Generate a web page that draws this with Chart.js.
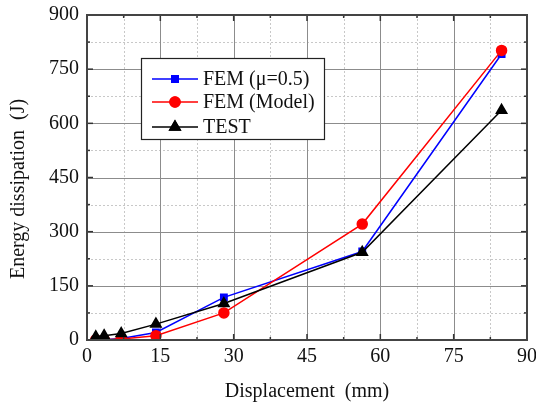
<!DOCTYPE html>
<html>
<head>
<meta charset="utf-8">
<script src="https://cdn.jsdelivr.net/npm/chart.js@4.4.0/dist/chart.umd.min.js"></script>
<style>
  html, body { margin: 0; padding: 0; background: #fff; }
  #wrap { width: 536px; height: 404px; }
</style>
</head>
<body>
<div id="wrap"><canvas id="chart" width="536" height="404"></canvas></div>
<script>
// displacement (mm)
var xValues = [1.8, 3.5, 7.0, 14.1, 28.0, 56.3, 84.8];
// energy dissipation (J)
var femMu = [1, 1, 4, 21, 118, 245, 792];
var femModel = [0.5, 1, 3, 12, 75, 321, 802];
var testValues = [9, 12, 18, 44, 101, 243, 636];

var xMajor = [0, 15, 30, 45, 60, 75, 90];
var xMinor = [7.5, 22.5, 37.5, 52.5, 67.5, 82.5];
var yMajor = [0, 150, 300, 450, 600, 750, 900];
var yMinor = [75, 225, 375, 525, 675, 825];

var yTitle = 'Energy dissipation  (J)';
var FONT = "'Liberation Serif', 'Times New Roman', serif";

function pts(ys){
  return xValues.map(function(x, i){ return {x: x, y: ys[i]}; });
}

/* grid, frame and inward ticks */
var frame = {
  id: 'frame',
  beforeDatasetsDraw: function(chart){
    var c = chart.ctx, a = chart.chartArea;
    var sx = chart.scales.x, sy = chart.scales.y;
    c.save();
    // minor grid (dashed)
    c.strokeStyle = '#c8c8c8';
    c.lineWidth = 1;
    c.setLineDash([2, 2]);
    xMinor.forEach(function(v){
      var p = Math.round(sx.getPixelForValue(v)) + 0.5;
      c.beginPath(); c.moveTo(p, a.top); c.lineTo(p, a.bottom); c.stroke();
    });
    yMinor.forEach(function(v){
      var p = Math.round(sy.getPixelForValue(v)) + 0.5;
      c.beginPath(); c.moveTo(a.left, p); c.lineTo(a.right, p); c.stroke();
    });
    // major grid (solid)
    c.setLineDash([]);
    c.strokeStyle = '#8c8c8c';
    xMajor.forEach(function(v){
      var p = Math.round(sx.getPixelForValue(v)) + 0.5;
      c.beginPath(); c.moveTo(p, a.top); c.lineTo(p, a.bottom); c.stroke();
    });
    yMajor.forEach(function(v){
      var p = Math.round(sy.getPixelForValue(v)) + 0.5;
      c.beginPath(); c.moveTo(a.left, p); c.lineTo(a.right, p); c.stroke();
    });
    c.restore();
  },
  afterDatasetsDraw: function(chart){
    var c = chart.ctx, a = chart.chartArea;
    var sx = chart.scales.x, sy = chart.scales.y;
    c.save();
    c.strokeStyle = '#333';
    c.lineWidth = 1.5;
    function tickX(v, len){
      var p = sx.getPixelForValue(v);
      c.beginPath(); c.moveTo(p, a.bottom); c.lineTo(p, a.bottom - len); c.stroke();
      c.beginPath(); c.moveTo(p, a.top); c.lineTo(p, a.top + len); c.stroke();
    }
    function tickY(v, len){
      var p = sy.getPixelForValue(v);
      c.beginPath(); c.moveTo(a.left, p); c.lineTo(a.left + len, p); c.stroke();
      c.beginPath(); c.moveTo(a.right, p); c.lineTo(a.right - len, p); c.stroke();
    }
    xMajor.forEach(function(v){ tickX(v, 6); });
    xMinor.forEach(function(v){ tickX(v, 3); });
    yMajor.forEach(function(v){ tickY(v, 6); });
    yMinor.forEach(function(v){ tickY(v, 3); });
    c.lineWidth = 2;
    c.strokeStyle = '#444';
    c.strokeRect(a.left, a.top, a.right - a.left, a.bottom - a.top);
    c.restore();
  }
};

/* boxed legend with line + marker samples, plus the y title */
var boxLegend = {
  id: 'boxLegend',
  afterDraw: function(chart){
    var c = chart.ctx;
    var bx = 141, by = 58, bw = 183, bh = 81;
    c.save();
    c.fillStyle = '#fff';
    c.fillRect(bx, by, bw, bh);
    c.strokeStyle = '#222';
    c.lineWidth = 1.2;
    c.strokeRect(bx + 0.5, by + 0.5, bw, bh);
    c.font = '20px ' + FONT;
    c.textBaseline = 'middle';
    var rows = [79, 102, 127];
    chart.data.datasets.forEach(function(ds, i){
      var y = rows[i];
      c.strokeStyle = ds.borderColor;
      c.lineWidth = 1.5;
      c.beginPath(); c.moveTo(152, y); c.lineTo(198, y); c.stroke();
      Chart.helpers.drawPoint(c, {
        pointStyle: ds.pointStyle, radius: ds.pointRadius, rotation: 0,
        borderWidth: 1
      }, 175, y);
      c.fillStyle = ds.pointBackgroundColor;
      c.strokeStyle = ds.pointBorderColor;
      c.fill(); c.stroke();
      c.fillStyle = '#111';
      c.fillText(ds.label, 203, y + 1);
    });

    // y axis title, sits a bit below the axis centre in the original
    c.translate(19, 189);
    c.rotate(-Math.PI / 2);
    c.textAlign = 'center';
    c.textBaseline = 'middle';
    c.font = '20px ' + FONT;
    c.fillStyle = '#111';
    c.fillText(yTitle, 0, 0);
    c.restore();
  }
};

var ctx = document.getElementById('chart').getContext('2d');
var chart = new Chart(ctx, {
  type: 'scatter',
  data: {
    datasets: [{
      label: 'FEM (\u03bc=0.5)',
      data: pts(femMu),
      showLine: true,
      borderColor: '#0000ff',
      borderWidth: 1.5,
      pointStyle: 'rect',
      pointRadius: 4.5,
      pointBackgroundColor: '#0000ff',
      pointBorderColor: '#0000ff',
      order: 3
    }, {
      label: 'FEM (Model)',
      data: pts(femModel),
      showLine: true,
      borderColor: '#ff0000',
      borderWidth: 1.5,
      pointStyle: 'circle',
      pointRadius: 5,
      pointBackgroundColor: '#ff0000',
      pointBorderColor: '#ff0000',
      order: 2
    }, {
      label: 'TEST',
      data: pts(testValues),
      showLine: true,
      borderColor: '#000000',
      borderWidth: 1.5,
      pointStyle: 'triangle',
      pointRadius: 6,
      pointBackgroundColor: '#000000',
      pointBorderColor: '#000000',
      order: 1
    }]
  },
  options: {
    responsive: false,
    animation: false,
    layout: { padding: { top: 15, right: 9, left: 0, bottom: 0 } },
    plugins: { legend: { display: false }, tooltip: { enabled: false } },
    scales: {
      x: {
        type: 'linear', min: 0, max: 90,
        afterBuildTicks: function(s){ s.ticks = xMajor.map(function(v){ return {value: v}; }); },
        afterFit: function(s){ s.height = 64; s.paddingLeft = 0; s.paddingRight = 0; },
        grid: { display: false, drawTicks: false },
        border: { display: false },
        ticks: { color: '#111', font: { family: FONT, size: 20 }, padding: 5, maxRotation: 0 },
        title: { display: true, text: 'Displacement  (mm)', color: '#111',
                 font: { family: FONT, size: 20 }, padding: { top: 6, bottom: 0 } }
      },
      y: {
        type: 'linear', min: 0, max: 900,
        afterBuildTicks: function(s){ s.ticks = yMajor.map(function(v){ return {value: v}; }); },
        afterFit: function(s){ s.width = 87; s.paddingTop = 0; s.paddingBottom = 0; },
        grid: { display: false, drawTicks: false },
        border: { display: false },
        ticks: { color: '#111', font: { family: FONT, size: 20 }, padding: 8 },
        title: { display: false }
      }
    }
  },
  plugins: [frame, boxLegend]
});
</script>
</body>
</html>
